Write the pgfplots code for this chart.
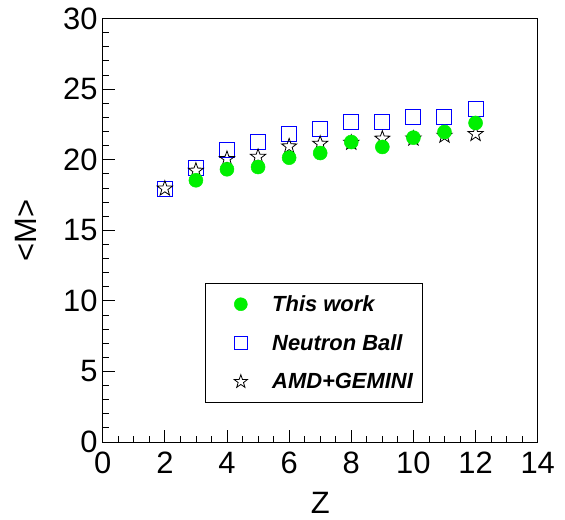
\documentclass[border=0pt]{standalone}
\usepackage{fontspec}
\setmainfont{Liberation Sans}
\usepackage{pgfplots}
\pgfplotsset{compat=1.18}
\definecolor{rgreen}{RGB}{0,240,0}
\definecolor{rblue}{RGB}{0,0,255}
\makeatletter
\pgfdeclareplotmark{ostar}{%
  \pgfmathsetlengthmacro\rin{0.40*\pgfplotmarksize}%
  \pgfpathmoveto{\pgfpointpolar{90}{\pgfplotmarksize}}%
  \pgfpathlineto{\pgfpointpolar{126}{\rin}}%
  \pgfpathlineto{\pgfpointpolar{162}{\pgfplotmarksize}}%
  \pgfpathlineto{\pgfpointpolar{198}{\rin}}%
  \pgfpathlineto{\pgfpointpolar{234}{\pgfplotmarksize}}%
  \pgfpathlineto{\pgfpointpolar{270}{\rin}}%
  \pgfpathlineto{\pgfpointpolar{306}{\pgfplotmarksize}}%
  \pgfpathlineto{\pgfpointpolar{342}{\rin}}%
  \pgfpathlineto{\pgfpointpolar{18}{\pgfplotmarksize}}%
  \pgfpathlineto{\pgfpointpolar{54}{\rin}}%
  \pgfpathclose
  \pgfusepathqstroke
}
\makeatother
\pgfplotstableread{
z m
3 18.54
4 19.32
5 19.48
6 20.14
7 20.47
8 21.25
9 20.90
10 21.56
11 21.96
12 22.60
}\thiswork
\pgfplotstableread{
z m
2 17.95
3 19.43
4 20.69
5 21.23
6 21.84
7 22.17
8 22.66
9 22.66
10 23.02
11 23.02
12 23.60
}\nball
\pgfplotstableread{
z m
2 17.95
3 19.22
4 20.05
5 20.20
6 20.94
7 21.13
8 21.20
9 21.49
10 21.50
11 21.70
12 21.82
}\amd
\begin{document}
\begin{tikzpicture}
\begin{axis}[
  at={(0,0)}, anchor=south west,
  scale only axis, width=435bp, height=423.5bp,
  xmin=0, xmax=14, ymin=0, ymax=30,
  xtick={0,2,...,14}, ytick={0,5,...,30},
  minor x tick num=3, minor y tick num=4,
  xtick pos=left, ytick pos=left,
  tick align=inside,
  major tick length=12bp, minor tick length=6bp,
  axis line style={line width=1bp, black},
  every tick/.style={black, line width=0.8bp},
  tick label style={font=\fontsize{31}{31}\selectfont},
  /pgf/number format/assume math mode=true,
  yticklabel style={inner sep=0pt, xshift=-5bp},
  xticklabel style={inner sep=0pt, yshift=-10bp},
  xlabel={Z}, ylabel={<M>},
  every axis x label/.style={at={(axis description cs:0.5,-0.144)}, anchor=center, inner sep=0pt, font=\fontsize{31}{31}\selectfont},
  every axis y label/.style={at={(axis description cs:-0.176,0.5)}, anchor=center, inner sep=0pt, rotate=90, font=\fontsize{31}{31}\selectfont},
  legimg/.style={legend image code/.code={%
      \path (0bp,0bp) (56bp,0bp);
      \draw[##1] plot coordinates {(27bp,0bp)};}},
  legend style={at={(axis cs:3.29,11.26)}, anchor=north west,
    draw=black, line width=1bp, fill=white,
    font=\fontsize{22}{26}\selectfont\bfseries\itshape,
    inner xsep=8bp, inner ysep=10bp, row sep=17.5bp},
  legend cell align=left,
]
\addlegendimage{legimg, mark=*, mark size=6.5bp, draw=rgreen, fill=rgreen, line width=0.5bp}
\addlegendentry{This work}
\addlegendimage{legimg, mark=square, mark size=6.5bp, draw=rblue, line width=0.8bp}
\addlegendentry{Neutron Ball}
\addlegendimage{legimg, mark=ostar, mark size=7bp, draw=black, line width=0.8bp}
\addlegendentry{AMD+GEMINI}

\addplot[forget plot, only marks, mark=square, mark size=7.5bp, draw=rblue, line width=1bp] table[x=z,y=m] {\nball};
\addplot[forget plot, only marks, mark=ostar, mark size=8bp, draw=black, line width=0.8bp] table[x=z,y=m] {\amd};
\addplot[forget plot, only marks, mark=*, mark size=7bp, draw=rgreen, fill=rgreen, line width=0.5bp] table[x=z,y=m] {\thiswork};
\end{axis}
\pgfresetboundingbox
\path[use as bounding box] (-102.7bp,-78bp) rectangle (462.3bp,442bp);
\end{tikzpicture}
\end{document}
